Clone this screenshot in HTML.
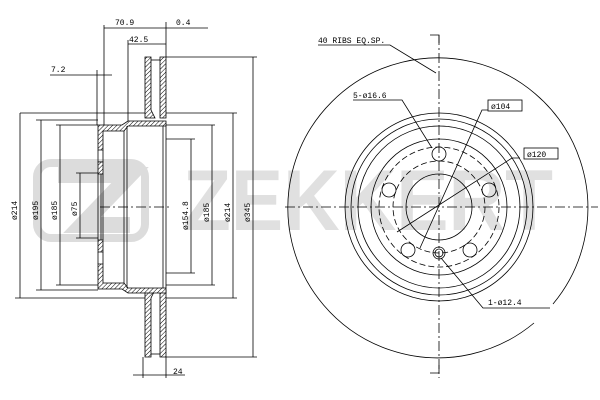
<!DOCTYPE html>
<html><head><style>html,body{margin:0;background:#fff;overflow:hidden;width:600px;height:400px}svg{display:block}</style></head><body>
<svg width="600" height="400" viewBox="0 0 600 400" xmlns="http://www.w3.org/2000/svg" font-family="Liberation Mono, monospace" font-size="8">
<defs>
<pattern id="h" width="3" height="3" patternUnits="userSpaceOnUse" patternTransform="rotate(45)"><rect width="3" height="3" fill="#fff"/><line x1="0" y1="0" x2="0" y2="3" stroke="#000" stroke-width="1"/></pattern>
</defs>
<!-- watermark -->
<g fill="none" stroke="#dcdcdc" stroke-width="8">
<rect x="37" y="163" width="108" height="75" rx="14"/>
</g>
<path d="M58 175 H130 L82 225 H130" fill="none" stroke="#dcdcdc" stroke-width="16"/>
<text x="183" y="230" font-family="Liberation Sans, sans-serif" font-weight="bold" font-size="86" fill="#e0e0e0" textLength="370" lengthAdjust="spacingAndGlyphs">ZEKKERT</text>

<g stroke="#000" stroke-width="0.8" fill="none">
<!-- LEFT VIEW -->
<path d="M145 57 H151 V110 L155 118 H145 Z" fill="url(#h)"/>
<path d="M160 57 H166 V118 H160 Z" fill="url(#h)"/>
<path d="M145 357 H151 V298 L155 290 H145 Z" fill="url(#h)"/>
<path d="M160 357 H166 V290 H160 Z" fill="url(#h)"/>
<line x1="151" y1="60" x2="160" y2="60"/><line x1="151" y1="354" x2="160" y2="354"/>
<path d="M98 125 H122 L128 121 H166 V126 H128 L124 131 H103 V150 H98 Z" fill="url(#h)"/>
<path d="M98 289 H122 L128 293 H166 V288 H128 L124 283 H103 V264 H98 Z" fill="url(#h)"/>
<path d="M98 150 V162 H103 V150" /><path d="M98 162 H103 V174 H98 Z" fill="url(#h)"/>
<path d="M98 240 H103 V252 H98 Z" fill="url(#h)"/>
<path d="M98 174 V240 M101 174 V240 M103 174 V240"/>
<line x1="124" y1="131" x2="124" y2="283"/>
<line x1="127" y1="126" x2="127" y2="288"/>
<line x1="163" y1="126" x2="163" y2="288"/>
<line x1="166" y1="126" x2="166" y2="288"/>
<line x1="103" y1="264" x2="103" y2="252"/>
<line x1="98" y1="252" x2="98" y2="264"/>
<line x1="100" y1="207" x2="170" y2="207" stroke-dasharray="10 3 2 3"/>
<line x1="104" y1="25" x2="104" y2="125"/>
<line x1="104" y1="28" x2="208" y2="28"/>
<line x1="166" y1="22" x2="166" y2="57"/>
<line x1="128" y1="44" x2="166" y2="44"/><line x1="128" y1="40" x2="128" y2="121"/>
<line x1="50" y1="75" x2="112" y2="75"/><line x1="97" y1="70" x2="97" y2="125"/>
<line x1="20" y1="113" x2="145" y2="113"/><line x1="15" y1="298" x2="145" y2="298"/>
<line x1="20" y1="113" x2="20" y2="298"/>
<line x1="36" y1="120" x2="98" y2="120"/><line x1="36" y1="290" x2="98" y2="290"/>
<line x1="41" y1="120" x2="41" y2="290"/>
<line x1="56" y1="125" x2="98" y2="125"/><line x1="56" y1="285" x2="98" y2="285"/>
<line x1="60" y1="125" x2="60" y2="285"/>
<line x1="76" y1="173" x2="98" y2="173"/><line x1="76" y1="238" x2="98" y2="238"/>
<line x1="80" y1="173" x2="80" y2="238"/>
<line x1="166" y1="139" x2="195" y2="139"/><line x1="166" y1="273" x2="195" y2="273"/>
<line x1="191" y1="139" x2="191" y2="273"/>
<line x1="166" y1="125" x2="215" y2="125"/><line x1="166" y1="285" x2="215" y2="285"/>
<line x1="212" y1="125" x2="212" y2="285"/>
<line x1="166" y1="113" x2="237" y2="113"/><line x1="166" y1="298" x2="237" y2="298"/>
<line x1="233" y1="113" x2="233" y2="298"/>
<line x1="166" y1="57" x2="257" y2="57"/><line x1="166" y1="357" x2="257" y2="357"/>
<line x1="253" y1="57" x2="253" y2="357"/>
<line x1="143" y1="357" x2="143" y2="378"/><line x1="166" y1="357" x2="166" y2="378"/>
<line x1="133" y1="375" x2="185" y2="375"/>

<!-- RIGHT VIEW -->
<path d="M553 304 A150 150 0 1 0 534 323" />
<circle cx="439" cy="207" r="94"/>
<circle cx="439" cy="207" r="88"/>
<circle cx="439" cy="207" r="81"/>
<circle cx="439" cy="207" r="68"/>
<circle cx="439" cy="207" r="33"/>
<circle cx="439" cy="207" r="60" stroke-dasharray="6 3"/>
<circle cx="439" cy="207" r="46" stroke-dasharray="6 3"/>
<circle cx="439" cy="154" r="7"/>
<circle cx="389" cy="190" r="7"/>
<circle cx="489" cy="190" r="7"/>
<circle cx="408" cy="250" r="7"/>
<circle cx="470" cy="250" r="7"/>
<circle cx="439" cy="253" r="6"/><circle cx="439" cy="253" r="4"/>
<line x1="439" y1="35" x2="439" y2="378" stroke-dasharray="10 3 2 3"/>
<line x1="285" y1="207" x2="598" y2="207" stroke-dasharray="10 3 2 3"/>
<path d="M430 35 H439 V43"/><path d="M430 373 H439 V365"/>
<path d="M318 45 H390 L436 73"/>
<path d="M353 100 H402 L432 148"/>
<path d="M490 110 H482 L420 248"/>
<path d="M520 158 H512 L397 232"/>
<path d="M441 258 L483 308 H550"/>
</g>
<g stroke="#000" stroke-width="0.8" fill="#fff">
<rect x="488" y="100" width="34" height="11"/>
<rect x="524" y="148" width="34" height="11"/>
</g>
<g fill="#000">
<text x="115" y="25">70.9</text>
<text x="176" y="25">0.4</text>
<text x="129" y="42">42.5</text>
<text x="51" y="72">7.2</text>
<text x="173" y="374">24</text>
<text x="318" y="43">40 RIBS EQ.SP.</text>
<text x="353" y="98">5-ø16.6</text>
<text x="491" y="109">ø104</text>
<text x="527" y="157">ø120</text>
<text x="488" y="305">1-ø12.4</text>
<text transform="translate(17 220) rotate(-90)">ø214</text>
<text transform="translate(38 220) rotate(-90)">ø195</text>
<text transform="translate(57 220) rotate(-90)">ø185</text>
<text transform="translate(77 216) rotate(-90)">ø75</text>
<text transform="translate(188 230) rotate(-90)">ø154.8</text>
<text transform="translate(209 222) rotate(-90)">ø185</text>
<text transform="translate(230 222) rotate(-90)">ø214</text>
<text transform="translate(250 222) rotate(-90)">ø345</text>
</g>
</svg>
</body></html>
